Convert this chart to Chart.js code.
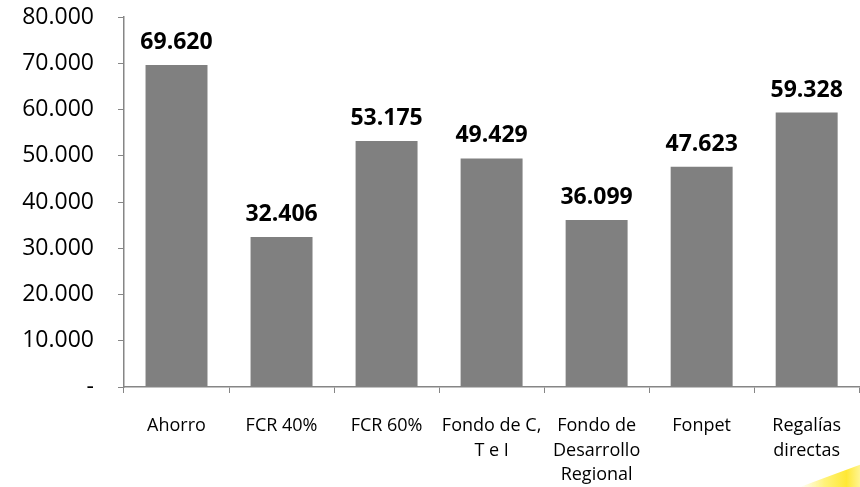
<!DOCTYPE html>
<html>
<head>
<meta charset="utf-8">
<script src="https://cdn.jsdelivr.net/npm/chart.js@4"></script>
<style>
  html, body { margin: 0; padding: 0; background: #fff; overflow: hidden; }
  #wrap { position: relative; width: 862px; height: 487px; }
  #glow {
    position: absolute; left: 800px; top: 464px; width: 62px; height: 23px;
    background: linear-gradient(90deg, rgba(255,240,120,0) 0%, #fff27a 40%, #ffe835 75%, #fff6a0 100%);
    clip-path: polygon(100% 0, 100% 100%, 0 100%, 40% 60%);
  }
</style>
</head>
<body>
<div id="wrap">
  <canvas id="chart" width="862" height="487"></canvas>
  <div id="glow"></div>
</div>
<script>
const categories = ['Ahorro', 'FCR 40%', 'FCR 60%', ['Fondo de C,', 'T e I'], ['Fondo de', 'Desarrollo', 'Regional'], 'Fonpet', ['Regalías', 'directas']];
const values = [69620, 32406, 53175, 49429, 36099, 47623, 59328];
const yTicks = [0, 10000, 20000, 30000, 40000, 50000, 60000, 70000, 80000];

function fmt(v) {
    if (v === 0) return '-';
    return v.toString().replace(/\B(?=(\d{3})+(?!\d))/g, '.');
}

// value labels above the bars
const barLabels = {
    id: 'barLabels',
    afterDatasetsDraw(chart) {
        const ctx = chart.ctx;
        const meta = chart.getDatasetMeta(0);
        ctx.save();
        ctx.font = 'bold 23px "Open Sans", sans-serif';
        ctx.fillStyle = '#000';
        ctx.textAlign = 'center';
        ctx.textBaseline = 'bottom';
        meta.data.forEach((bar, i) => {
            ctx.fillText(fmt(values[i]), bar.x, bar.y - 11);
        });
        ctx.restore();
    }
};

new Chart(document.getElementById('chart').getContext('2d'), {
    type: 'bar',
    data: {
        labels: categories,
        datasets: [{
            data: values,
            backgroundColor: '#808080',
            barPercentage: 0.59,
            categoryPercentage: 1
        }]
    },
    options: {
        responsive: false,
        animation: false,
        layout: { padding: { top: 17, right: 0, bottom: 0, left: 0 } },
        plugins: {
            legend: { display: false },
            tooltip: { enabled: false }
        },
        scales: {
            y: {
                min: 0,
                max: 80000,
                afterBuildTicks: scale => { scale.ticks = yTicks.map(v => ({ value: v })); },
                afterFit: scale => {
                    scale.width = 124;
                    scale.paddingTop = 0;
                    scale.paddingBottom = 0;
                },
                ticks: {
                    color: '#000',
                    padding: 24,
                    font: { family: '"Open Sans", sans-serif', size: 23 },
                    callback: v => fmt(v)
                },
                grid: {
                    drawOnChartArea: false,
                    tickLength: 6,
                    color: '#868686'
                },
                border: { color: '#868686', width: 1.5 }
            },
            x: {
                afterFit: scale => { scale.height = 100; },
                ticks: {
                    color: '#000',
                    padding: 21,
                    maxRotation: 0,
                    autoSkip: false,
                    font: { family: '"Open Sans", sans-serif', size: 18, lineHeight: 1.35 }
                },
                grid: {
                    offset: true,
                    drawOnChartArea: false,
                    tickLength: 6,
                    color: '#868686'
                },
                border: { color: '#868686', width: 1.5 }
            }
        }
    },
    plugins: [barLabels]
});
</script>
</body>
</html>
